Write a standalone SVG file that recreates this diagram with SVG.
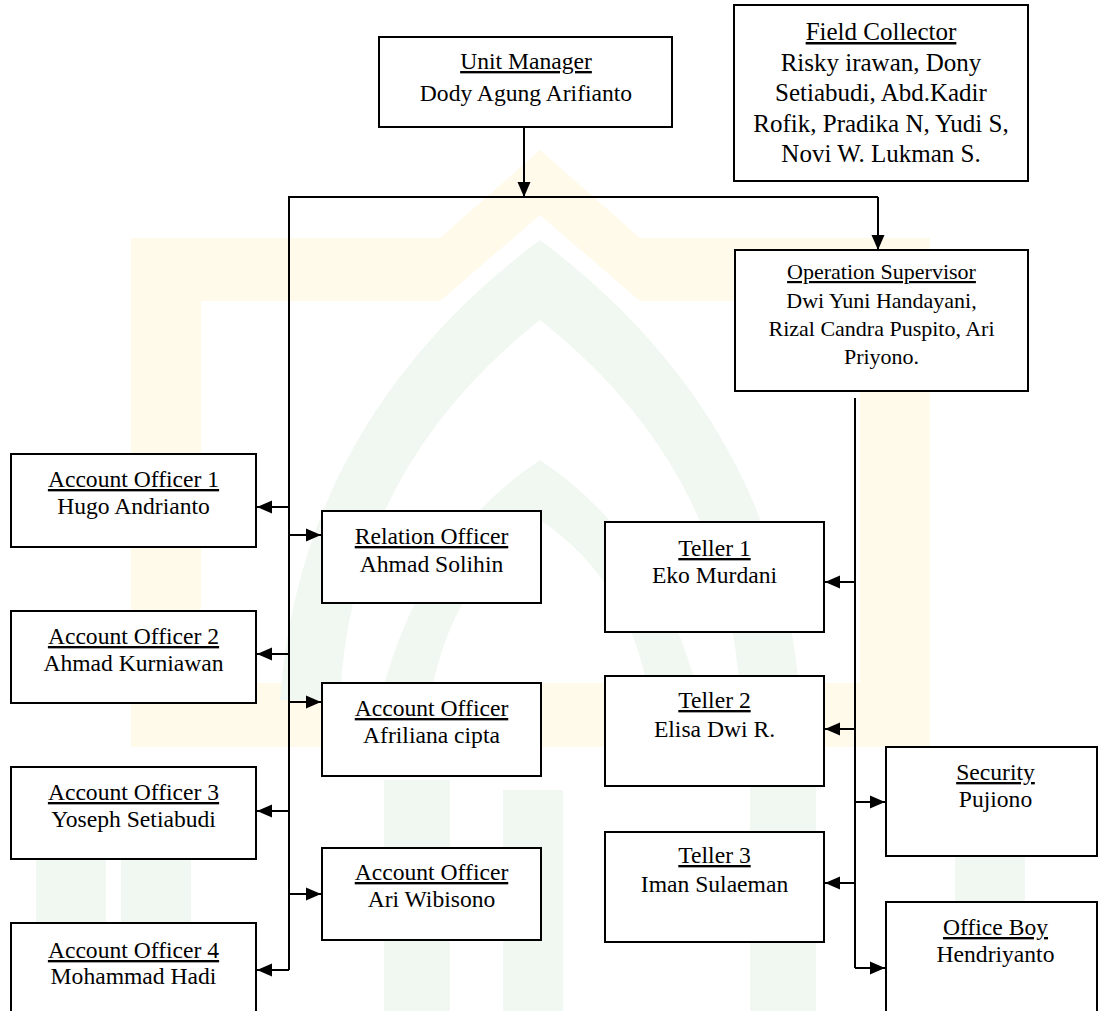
<svg xmlns="http://www.w3.org/2000/svg" width="1099" height="1011" viewBox="0 0 1099 1011">
<defs>
<style>
.box{fill:#fff;stroke:#000;stroke-width:2}
.t{font-family:"Liberation Serif","Times New Roman",serif;font-size:23.6px;fill:#000;text-anchor:middle}
.fc{font-size:25px}
.os{font-size:22px}
.u{text-decoration:underline}
.c{stroke:#000;stroke-width:2;fill:none}
.wy{fill:#fffaea}
.wg{fill:#f1f7f1}
</style>
<marker id="ah" markerUnits="userSpaceOnUse" markerWidth="16" markerHeight="16" viewBox="0 0 16 16" refX="15" refY="8" orient="auto">
<path d="M0,1.5 L15,8 L0,14.5 Z" fill="#000"/>
</marker>
</defs>
<rect width="1099" height="1011" fill="#fff"/>
<g id="watermark">
<rect class="wy" x="131" y="238" width="70" height="509"/>
<rect class="wy" x="860" y="238" width="70" height="509"/>
<rect class="wy" x="131" y="683" width="799" height="64"/>
<path class="wy" d="M131,238 L440,238 L540,150 L640,238 L930,238 L930,301 L640,301 L540,215 L440,301 L131,301 Z"/>
<path class="wg" d="M280,700 Q300,420 540,240 Q780,420 800,700 L740,700 Q730,470 540,320 Q350,470 340,700 Z"/>
<path class="wg" d="M380,700 Q420,540 540,460 Q660,540 700,700 L650,700 Q630,580 540,520 Q450,580 430,700 Z"/>
<rect class="wg" x="36" y="780" width="70" height="231"/>
<rect class="wg" x="121" y="780" width="70" height="231"/>
<rect class="wg" x="384" y="780" width="66" height="231"/>
<rect class="wg" x="503" y="790" width="60" height="221"/>
<rect class="wg" x="750" y="780" width="66" height="231"/>
<rect class="wg" x="955" y="780" width="70" height="231"/>
</g>
<g id="connectors">
<line class="c" x1="524" y1="127" x2="524" y2="197" marker-end="url(#ah)"/>
<polyline class="c" points="289,970 289,197 878,197"/>
<line class="c" x1="878" y1="197" x2="878" y2="250" marker-end="url(#ah)"/>
<line class="c" x1="289" y1="507" x2="257" y2="507" marker-end="url(#ah)"/>
<line class="c" x1="289" y1="654" x2="257" y2="654" marker-end="url(#ah)"/>
<line class="c" x1="289" y1="811" x2="257" y2="811" marker-end="url(#ah)"/>
<line class="c" x1="289" y1="970" x2="257" y2="970" marker-end="url(#ah)"/>
<line class="c" x1="289" y1="535" x2="321" y2="535" marker-end="url(#ah)"/>
<line class="c" x1="289" y1="702" x2="321" y2="702" marker-end="url(#ah)"/>
<line class="c" x1="289" y1="894" x2="321" y2="894" marker-end="url(#ah)"/>
<line class="c" x1="855" y1="398" x2="855" y2="968"/>
<line class="c" x1="855" y1="582" x2="825" y2="582" marker-end="url(#ah)"/>
<line class="c" x1="855" y1="729" x2="825" y2="729" marker-end="url(#ah)"/>
<line class="c" x1="855" y1="883" x2="825" y2="883" marker-end="url(#ah)"/>
<line class="c" x1="855" y1="802" x2="885" y2="802" marker-end="url(#ah)"/>
<line class="c" x1="855" y1="968" x2="885" y2="968" marker-end="url(#ah)"/>
</g>
<g id="unit-manager">
<rect class="box" x="379" y="37" width="293" height="90"/>
<text class="t" x="526" y="69"><tspan class="u">Unit Manager</tspan></text>
<text class="t" x="526" y="101">Dody Agung Arifianto</text>
</g>
<g id="field-collector">
<rect class="box" x="734" y="5" width="294" height="176"/>
<text class="t fc" x="881" y="40"><tspan class="u">Field Collector</tspan></text>
<text class="t fc" x="881" y="71">Risky irawan, Dony</text>
<text class="t fc" x="881" y="101">Setiabudi, Abd.Kadir</text>
<text class="t fc" x="881" y="132">Rofik, Pradika N, Yudi S,</text>
<text class="t fc" x="881" y="162">Novi W. Lukman S.</text>
</g>
<g id="operation-supervisor">
<rect class="box" x="735" y="250" width="293" height="141"/>
<text class="t os" x="881.5" y="279"><tspan class="u">Operation Supervisor</tspan></text>
<text class="t os" x="881.5" y="308">Dwi Yuni Handayani,</text>
<text class="t os" x="881.5" y="336">Rizal Candra Puspito, Ari</text>
<text class="t os" x="881.5" y="364">Priyono.</text>
</g>
<g id="account-officer-1">
<rect class="box" x="11" y="454" width="245" height="93"/>
<text class="t" x="133.5" y="487"><tspan class="u">Account Officer 1</tspan></text>
<text class="t" x="133.5" y="514">Hugo Andrianto</text>
</g>
<g id="account-officer-2">
<rect class="box" x="11" y="611" width="245" height="92"/>
<text class="t" x="133.5" y="644"><tspan class="u">Account Officer 2</tspan></text>
<text class="t" x="133.5" y="671">Ahmad Kurniawan</text>
</g>
<g id="account-officer-3">
<rect class="box" x="11" y="767" width="245" height="92"/>
<text class="t" x="133.5" y="800"><tspan class="u">Account Officer 3</tspan></text>
<text class="t" x="133.5" y="827">Yoseph Setiabudi</text>
</g>
<g id="account-officer-4">
<rect class="box" x="11" y="923" width="245" height="95"/>
<text class="t" x="133.5" y="958"><tspan class="u">Account Officer 4</tspan></text>
<text class="t" x="133.5" y="984">Mohammad Hadi</text>
</g>
<g id="relation-officer">
<rect class="box" x="322" y="511" width="219" height="92"/>
<text class="t" x="431.5" y="544"><tspan class="u">Relation Officer</tspan></text>
<text class="t" x="431.5" y="572">Ahmad Solihin</text>
</g>
<g id="account-officer-afriliana">
<rect class="box" x="322" y="683" width="219" height="93"/>
<text class="t" x="431.5" y="716"><tspan class="u">Account Officer</tspan></text>
<text class="t" x="431.5" y="743">Afriliana cipta</text>
</g>
<g id="account-officer-ari">
<rect class="box" x="322" y="848" width="219" height="92"/>
<text class="t" x="431.5" y="880"><tspan class="u">Account Officer</tspan></text>
<text class="t" x="431.5" y="907">Ari Wibisono</text>
</g>
<g id="teller-1">
<rect class="box" x="605" y="522" width="219" height="110"/>
<text class="t" x="714.5" y="556"><tspan class="u">Teller 1</tspan></text>
<text class="t" x="714.5" y="583">Eko Murdani</text>
</g>
<g id="teller-2">
<rect class="box" x="605" y="676" width="219" height="110"/>
<text class="t" x="714.5" y="708"><tspan class="u">Teller 2</tspan></text>
<text class="t" x="714.5" y="737">Elisa Dwi R.</text>
</g>
<g id="teller-3">
<rect class="box" x="605" y="832" width="219" height="110"/>
<text class="t" x="714.5" y="863"><tspan class="u">Teller 3</tspan></text>
<text class="t" x="714.5" y="892">Iman Sulaeman</text>
</g>
<g id="security">
<rect class="box" x="886" y="747" width="211" height="109"/>
<text class="t" x="995.5" y="780"><tspan class="u">Security</tspan></text>
<text class="t" x="995.5" y="807">Pujiono</text>
</g>
<g id="office-boy">
<rect class="box" x="886" y="902" width="211" height="115"/>
<text class="t" x="995.5" y="935"><tspan class="u">Office Boy</tspan></text>
<text class="t" x="995.5" y="962">Hendriyanto</text>
</g>
</svg>
